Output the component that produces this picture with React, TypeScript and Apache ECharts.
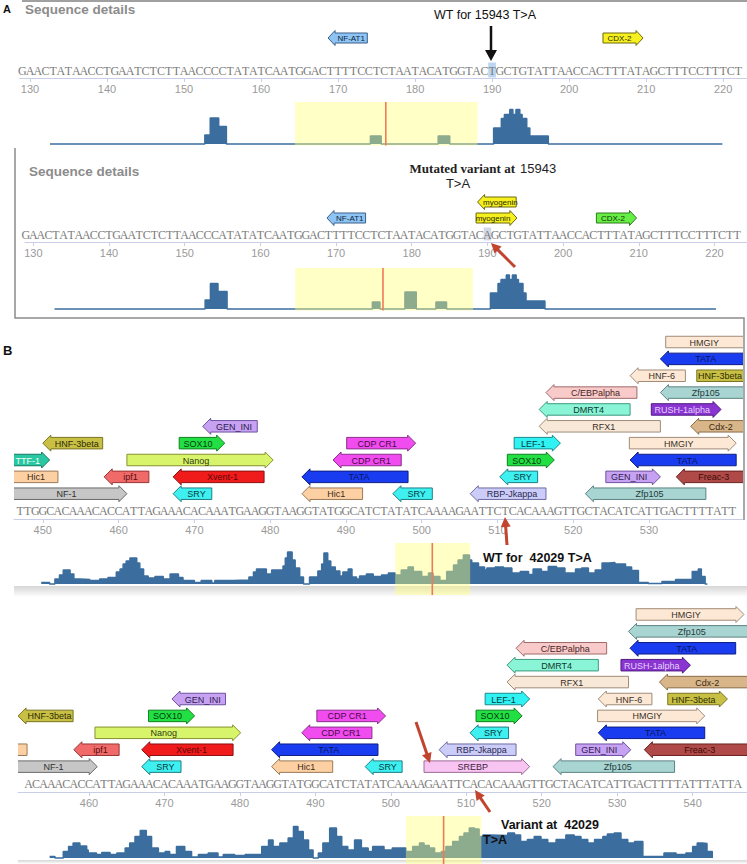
import React, { useEffect, useRef } from "react";
import * as echarts from "echarts";

type TF = [string, number, number, number, number]; // name, start, end, row, direction (1 right, -1 left)
type Pt = [number, number];

// ---------------- Panel A : 15943 T>A ----------------
const seqA1Start = 129;
const seqA1 = "GAACTATAACCTGAATCTCTTAACCCCTATATCAATGGACTTTTCCTCTAATACATGGTACTGCTGTATTAACCACTTTATAGCTTTCCTTTCTTT";
const seqA2Start = 129;
const seqA2 = "GAACTATAACCTGAATCTCTTAACCCATATATCAATGGACTTTTCCTCTAATACATGGTACAGCTGTATTAACCACTTTATAGCTTTCCTTTCTTT";
const variantPosA = 190;
const ticksA = [130, 140, 150, 160, 170, 180, 190, 200, 210, 220];
const rangeA1: Pt = [128.7, 223.1];
const rangeA2: Pt = [128.9, 224.3];

const tfA1: TF[] = [
  ["NF-AT1", 168.7, 173.8, 2, -1],
  ["CDX-2", 204.4, 209.6, 2, 1],
];
const tfA2: TF[] = [
  ["NF-AT1", 168.8, 173.9, 1, -1],
  ["myogenin", 188.5, 193.9, 1, 1],
  ["myogenin", 188.7, 193.8, 2, -1],
  ["CDX-2", 204.4, 209.7, 1, 1],
];

const consA1: Pt[] = [
  [132.6, 0], [152.7, 9], [153.4, 26], [154.5, 17.5], [155.5, 0], [174.2, 8], [175.6, 0],
  [183, 8], [184.5, 0], [190.2, 16], [191.2, 25.5], [191.6, 29.5], [192.3, 34.5], [192.7, 29.5],
  [193.1, 34.5], [193.6, 29.5], [193.9, 25.5], [194.5, 16], [194.9, 8], [197.3, 0], [219.9, 0],
];
const consA2: Pt[] = [
  [132.8, 0], [152.7, 9], [153.4, 25.5], [154.4, 17.5], [155.6, 0], [174.8, 7], [175.8, 0],
  [179.1, 17], [180.6, 0], [183.2, 7], [184.6, 0], [190.4, 16], [191.4, 25.5], [191.8, 29.5],
  [192.5, 34], [192.9, 29.5], [193.3, 34], [193.8, 29.5], [194.1, 25.5], [194.7, 16], [195.1, 8],
  [197.6, 0], [220.2, 0],
];
const windowA1 = [164.4, 188.1, 176.2]; // highlighted window start, end, variant line
const windowA2 = [164.6, 188.1, 176.2];

// ---------------- Panel B : 42029 T>A ----------------
const seqB1Start = 447;
const seqB1 = "TTGGCACAAACACCATTAGAAACACAAATGAAGGTAAGGTATGGCATCTATATCAAAAGAATTCTCACAAAGTTGCTACATCATTGACTTTTATTT";
const seqB2Start = 452;
const seqB2 = "ACAAACACCATTAGAAACACAAATGAAGGTAAGGTATGGCATCTATATCAAAAGAATTCACACAAAGTTGCTACATCATTGACTTTTATTTATTAC";
const ticksB1 = [450, 460, 470, 480, 490, 500, 510, 520, 530];
const ticksB2 = [460, 470, 480, 490, 500, 510, 520, 530, 540];
const rangeB1: Pt = [446.2, 542.4];
const rangeB2: Pt = [450.6, 547.2];

const tfB1: TF[] = [
  ["NF-1", 444, 461.1, 1, 1], ["SRY", 467.2, 472.3, 1, -1], ["Hic1", 484.2, 492.2, 1, -1],
  ["SRY", 496.2, 501.4, 1, -1], ["RBP-Jkappa", 506.4, 516.4, 1, -1], ["Zfp105", 521.6, 537.5, 1, -1],
  ["Hic1", 443.4, 452, 2, -1], ["ipf1", 458.1, 464, 2, -1], ["Xvent-1", 467.2, 479.2, 2, -1],
  ["TATA", 484.2, 498.2, 2, -1], ["SRY", 510.3, 515.3, 2, -1], ["GEN_INI", 524.3, 531.5, 2, 1],
  ["Freac-3", 533.6, 546, 2, -1],
  ["TTF-1", 444, 450.9, 3, 1], ["Nanog", 461.1, 480.4, 3, 1], ["CDP CR1", 488.3, 497.3, 3, -1],
  ["SOX10", 511.3, 517.5, 3, 1], ["TATA", 527.5, 541.5, 3, -1],
  ["HNF-3beta", 450, 457.9, 4, -1], ["SOX10", 468, 474, 4, 1], ["CDP CR1", 490.1, 499.2, 4, 1],
  ["LEF-1", 512.2, 518.3, 4, 1], ["HMGIY", 527.4, 541.5, 4, 1],
  ["GEN_INI", 471.1, 478.3, 5, -1], ["RFX1", 515.5, 531.5, 5, -1], ["Cdx-2", 535.5, 547, 5, -1],
  ["DMRT4", 515.5, 527.5, 6, -1], ["RUSH-1alpha", 530.3, 539.5, 6, 1],
  ["C/EBPalpha", 516.4, 528.4, 7, -1], ["Zfp105", 531.5, 546, 7, -1],
  ["HNF-6", 527.5, 534.8, 8, -1], ["HNF-3beta", 536.3, 546, 8, 1],
  ["TATA", 531.5, 546, 9, -1],
  ["HMGIY", 532.2, 546, 10, 1],
];
const tfB2: TF[] = [
  ["NF-1", 448, 461.1, 1, 1], ["SRY", 467, 472.2, 1, -1], ["Hic1", 484.2, 492.3, 1, -1],
  ["SRY", 496.6, 501.5, 1, -1], ["SREBP", 504.4, 518.4, 1, 1], ["Zfp105", 521.5, 537.6, 1, -1],
  ["Hic1", 444, 451.8, 2, -1], ["ipf1", 458, 464, 2, -1], ["Xvent-1", 467, 479.1, 2, -1],
  ["TATA", 484.2, 498.3, 2, -1], ["RBP-Jkappa", 506.4, 516.6, 2, -1], ["GEN_INI", 524.5, 531.8, 2, 1],
  ["Freac-3", 533.6, 550, 2, -1],
  ["Nanog", 460.8, 480.1, 3, 1], ["CDP CR1", 488.2, 497.5, 3, -1], ["SRY", 510.5, 515.6, 3, -1],
  ["TATA", 527.5, 541.6, 3, -1],
  ["HNF-3beta", 450.6, 457.9, 4, -1], ["SOX10", 467.9, 474, 4, 1], ["CDP CR1", 490.2, 499.3, 4, 1],
  ["SOX10", 511.3, 517.4, 4, 1], ["HMGIY", 527.4, 541.6, 4, 1],
  ["GEN_INI", 471, 478.1, 5, -1], ["LEF-1", 512.5, 518.4, 5, 1], ["HNF-6", 527.5, 534.6, 5, -1],
  ["HNF-3beta", 536.7, 544.6, 5, 1],
  ["RFX1", 515.4, 531.5, 6, -1], ["Cdx-2", 535.6, 550, 6, -1],
  ["DMRT4", 515.4, 527.5, 7, -1], ["RUSH-1alpha", 530.5, 539.7, 7, 1],
  ["C/EBPalpha", 516.6, 528.6, 8, -1], ["TATA", 531.7, 545.7, 8, -1],
  ["Zfp105", 531.5, 550, 9, -1],
  ["HMGIY", 532.5, 546.8, 10, 1],
];

const consB1: Pt[] = [
  [449.8, 1.5], [450.9, 0], [451.6, 5], [452.2, 9], [452.7, 14], [453.6, 10], [454.1, 5], [454.9, 4.5],
  [456.2, 3.5], [457.5, 5], [458.6, 6.5], [459.7, 12], [460.2, 15], [460.6, 20], [461, 23], [461.5, 26],
  [462.4, 21], [462.8, 15], [463.3, 8], [463.9, 6], [464.8, 7.5], [465.9, 5], [466.8, 10], [467.9, 6.5],
  [468.5, 3.5], [470, 1.5], [470.9, 3.5], [472.3, 1], [472.7, 3.5], [475.1, 4], [477.2, 7], [477.8, 12],
  [478.2, 15], [479.5, 10], [480.2, 14], [481.7, 18], [482, 26], [482.3, 32], [482.9, 24], [483.3, 16],
  [483.9, 7], [484.4, 0], [485.2, 7], [486.3, 13], [486.8, 20], [487.1, 31], [487.6, 23], [488, 17],
  [488.6, 13], [489.2, 8], [489.6, 12], [490.3, 15], [490.8, 7], [491.4, 5], [491.8, 8], [492.7, 10],
  [493.6, 7.5], [494.7, 9], [495.6, 11], [496.5, 9], [497.3, 14], [498.2, 17], [498.9, 12.5], [500, 7.5],
  [500.9, 11], [501.5, 7.5], [502.4, 3.5], [503.3, 12.5], [504.2, 19], [504.8, 24], [505.5, 29],
  [506.3, 24], [506.6, 21], [507.5, 17], [508.3, 14], [508.6, 16], [509.7, 17], [510.8, 16], [511.9, 11],
  [513, 12.5], [514.1, 9.5], [514.7, 15], [515.8, 12.5], [516.7, 17.5], [517.8, 16], [518.9, 11],
  [520.3, 15], [521.1, 16], [522, 11], [522.9, 14], [523.8, 21], [524.7, 21.5], [525.5, 20], [526.9, 17],
  [527.7, 13.5], [528.6, 1.5], [529.9, 0.5], [531.7, 2.5], [533.5, 4.5], [535.7, 12.5], [536.5, 15],
  [536.9, 7.5], [537.4, 0], [537.7, 0],
];
const consB2: Pt[] = [
  [454.8, 1.5], [455.5, 0], [456.6, 6.5], [457.3, 11.5], [457.9, 15], [458.8, 12], [459.7, 8], [459.9, 5],
  [461, 3.5], [461.7, 5.5], [462.8, 3.5], [463.7, 5], [464.8, 10], [465.4, 15], [466.1, 21.5], [466.8, 27.5],
  [467.6, 21.5], [468.3, 10], [469.2, 5], [470.1, 6.5], [470.7, 3.5], [471.6, 11.5], [472.7, 6.5], [473.6, 1],
  [474.5, 3.5], [475.8, 5], [477.1, 1], [477.8, 3.5], [479.3, 2.5], [480.7, 3.5], [482.9, 11.5], [483.8, 18],
  [484.4, 11.5], [485.3, 15], [486.4, 20], [487.1, 31.5], [487.7, 26.5], [488.4, 18], [489.1, 8], [489.7, 0],
  [490.4, 5], [491, 15], [491.9, 30], [492.8, 21.5], [493.5, 11.5], [494.3, 8], [495.2, 18], [496.1, 10],
  [497, 6.5], [497.6, 11.5], [499.1, 8], [500.2, 10], [502, 6.5], [502.9, 11.5], [503.8, 15], [504.4, 12.5],
  [505.1, 10], [505.8, 5], [506.7, 6.5], [507.3, 11.5], [508.2, 16.5], [509.1, 21.5], [509.7, 25], [510.4, 30],
  [511.1, 29], [511.7, 21.5], [512.2, 23], [513.1, 22.5], [515.5, 25], [516.4, 23], [517.2, 16.5],
  [518.1, 18.5], [519, 21.5], [519.9, 18.5], [520.8, 15], [521.9, 18.5], [523.2, 23], [524.3, 21.5],
  [525.2, 18.5], [526.1, 15], [527, 18.5], [528.1, 21.5], [528.7, 24], [529.6, 25], [530.5, 18.5],
  [531.4, 15], [532.3, 16.5], [533.4, 1.5], [536.2, 5], [537.8, 3.5], [539.1, 5], [540, 11.5], [540.6, 15],
  [541.3, 14.5], [541.9, 6.5], [542.6, 0],
];
const windowB1 = [496.5, 506.4, 501.4];
const windowB2 = [502, 512, 507];

// ---------------- styles ----------------
const SANS = '"Liberation Sans", Arial, sans-serif';
const SERIF = '"Liberation Serif", "Times New Roman", serif';
const BLUE = "#3b6e9e";
const AXIS = "#c8cde8";
const RED = "#c2442f";

const TF_COLORS: Record<string, [string, string, string]> = {
  "NF-AT1": ["#8ec4f4", "#3a5f8a", "#10243c"],
  "CDX-2": ["#f6f01e", "#6e6a10", "#2a2a08"],
  myogenin: ["#f6f01e", "#6e6a10", "#2a2a08"],
  "NF-1": ["#c6c6c6", "#6a6a6a", "#303030"],
  SRY: ["#3ff0f0", "#1d7f86", "#063c40"],
  Hic1: ["#fcd0a2", "#9a7a58", "#3c2a18"],
  "RBP-Jkappa": ["#ccccf8", "#6c6ca0", "#2a2a50"],
  Zfp105: ["#a8d4d2", "#5c8482", "#1e3a38"],
  ipf1: ["#f06a6a", "#9a3434", "#5a0c0c"],
  "Xvent-1": ["#f01c1c", "#8c1010", "#600606"],
  TATA: ["#1a3cf0", "#0e1e84", "#061460"],
  GEN_INI: ["#c8a2f2", "#6e52a0", "#2e1c50"],
  "Freac-3": ["#b04a48", "#6a2220", "#3c0a08"],
  "TTF-1": ["#2ac8a2", "#127a60", "#effff9"],
  Nanog: ["#d8f46a", "#86922e", "#303c10"],
  "CDP CR1": ["#f04cf0", "#8c2e8c", "#4a0a4a"],
  SOX10: ["#22e044", "#10801e", "#063c0e"],
  "HNF-3beta": ["#c8c044", "#7a7420", "#2e2c06"],
  "LEF-1": ["#30f2f2", "#1a8a8c", "#063e40"],
  HMGIY: ["#fce8d4", "#a08c78", "#3a3028"],
  RFX1: ["#f8e8d8", "#a08c78", "#3a3028"],
  DMRT4: ["#8af4d6", "#3c9a7e", "#0e3a2e"],
  "C/EBPalpha": ["#f8caca", "#a06a6a", "#4a2424"],
  "RUSH-1alpha": ["#8a34d2", "#4e1a80", "#e4d2fa"],
  "HNF-6": ["#fce8d4", "#a08c78", "#3a3028"],
  "Cdx-2": ["#d8b68a", "#8a6c48", "#3a2a14"],
  SREBP: ["#f8c4f2", "#9c6c98", "#3e2040"],
};
const TF_OVERRIDE: Record<string, [string, string, string]> = {
  "A2:CDX-2": ["#66ee44", "#2e7a1e", "#0e3006"],
};
function tfStyle(panel: string, name: string): [string, string, string] {
  return TF_OVERRIDE[panel + ":" + name] || TF_COLORS[name] || ["#dddddd", "#888888", "#333333"];
}

interface Panel {
  key: string; seq: string; start: number; tfs: TF[]; cons: Pt[]; win: number[];
  range: Pt; ticks: number[]; hiPos: number | null; hiColor: string;
  left: number; width: number; trackTop: number; trackH: number; rows: number;
  consTop: number; consH: number; consMin: number; consMax: number;
  fs: number; bodyH: number; headH: number; headL: number; hiH: number;
}

const PANELS: Panel[] = [
  { key: "A1", seq: seqA1, start: seqA1Start, tfs: tfA1, cons: consA1, win: windowA1, range: rangeA1, ticks: ticksA,
    hiPos: variantPosA, hiColor: "#bcd6f2", left: 20, width: 727, trackTop: 30, trackH: 48, rows: 2,
    consTop: 102, consH: 43.5, consMin: -1.5, consMax: 42, fs: 8, bodyH: 10, headH: 15, headL: 7, hiH: 15 },
  { key: "A2", seq: seqA2, start: seqA2Start, tfs: tfA2, cons: consA2, win: windowA2, range: rangeA2, ticks: ticksA,
    hiPos: variantPosA, hiColor: "#d2d8e6", left: 25, width: 722, trackTop: 194, trackH: 48, rows: 2,
    consTop: 268, consH: 42.5, consMin: -1.5, consMax: 41, fs: 8, bodyH: 10, headH: 15, headL: 7, hiH: 13 },
  { key: "B1", seq: seqB1, start: seqB1Start, tfs: tfB1, cons: consB1, win: windowB1, range: rangeB1, ticks: ticksB1,
    hiPos: null, hiColor: "", left: 14, width: 729, trackTop: 333.6, trackH: 185.4, rows: 10,
    consTop: 543, consH: 52, consMin: -11, consMax: 41, fs: 9, bodyH: 11.5, headH: 16, headL: 8, hiH: 14 },
  { key: "B2", seq: seqB2, start: seqB2Start, tfs: tfB2, cons: consB2, win: windowB2, range: rangeB2, ticks: ticksB2,
    hiPos: null, hiColor: "", left: 18, width: 729, trackTop: 606, trackH: 186, rows: 10,
    consTop: 816, consH: 48, consMin: -6, consMax: 42, fs: 9, bodyH: 11.5, headH: 16, headL: 8, hiH: 14 },
];

function arrowEls(x1: number, y1: number, x2: number, y2: number, color: string, w: number, hl: number, hw: number) {
  const dx = x2 - x1, dy = y2 - y1;
  const len = Math.hypot(dx, dy);
  const ux = dx / len, uy = dy / len;
  const bx = x2 - ux * hl, by = y2 - uy * hl;
  const px = -uy, py = ux;
  return [
    { type: "line", z: 100, shape: { x1, y1, x2: bx + ux, y2: by + uy }, style: { stroke: color, lineWidth: w } },
    { type: "polygon", z: 100, shape: { points: [[x2, y2], [bx + px * hw, by + py * hw], [bx - px * hw, by - py * hw]] }, style: { fill: color } },
  ];
}

function buildOption() {
  const grid: any[] = [], xAxis: any[] = [], yAxis: any[] = [], series: any[] = [];
  PANELS.forEach((p, i) => {
    const ti = i * 2, ci = i * 2 + 1;
    grid.push({ left: p.left, width: p.width, top: p.trackTop, height: p.trackH, containLabel: false, outerBoundsMode: "none" });
    grid.push({ left: p.left, width: p.width, top: p.consTop, height: p.consH, containLabel: false, outerBoundsMode: "none" });
    xAxis.push({
      gridIndex: ti, type: "value", min: p.range[0], max: p.range[1],
      axisLine: { show: true, onZero: false, lineStyle: { color: AXIS, width: 1 } },
      axisTick: { show: true, customValues: p.ticks, length: 4, lineStyle: { color: AXIS } },
      axisLabel: { customValues: p.ticks, color: "#9a9a9a", fontSize: 11, fontFamily: SANS, margin: 5 },
      splitLine: { show: false },
    });
    xAxis.push({ gridIndex: ci, type: "value", min: p.range[0], max: p.range[1], show: false });
    yAxis.push({ gridIndex: ti, type: "value", min: -0.5, max: p.rows + 0.5, show: false });
    yAxis.push({ gridIndex: ci, type: "value", min: p.consMin, max: p.consMax, show: false });

    // transcription factor arrows
    series.push({
      type: "custom", name: p.key + " TF", xAxisIndex: ti, yAxisIndex: ti, clip: true, z: 3,
      encode: { x: [0, 1], y: 2 },
      data: p.tfs.map((d) => [d[1], d[2], d[3]]),
      renderItem: (params: any, api: any) => {
        const d = p.tfs[params.dataIndex];
        const a = api.coord([api.value(0), api.value(2)]);
        const b = api.coord([api.value(1), api.value(2)]);
        const cs = params.coordSys;
        const xa = a[0], xb = b[0], cy = a[1];
        const h = p.bodyH / 2, H = p.headH / 2;
        const L = Math.min(p.headL, (xb - xa) / 2);
        let pts: number[][];
        let bx0 = xa, bx1 = xb;
        if (d[4] > 0) {
          pts = [[xa, cy - h], [xb - L, cy - h], [xb - L, cy - H], [xb, cy], [xb - L, cy + H], [xb - L, cy + h], [xa, cy + h]];
          bx1 = xb - L;
        } else {
          pts = [[xb, cy - h], [xa + L, cy - h], [xa + L, cy - H], [xa, cy], [xa + L, cy + H], [xa + L, cy + h], [xb, cy + h]];
          bx0 = xa + L;
        }
        const [fill, stroke, txt] = tfStyle(p.key, d[0]);
        const children: any[] = [
          { type: "polygon", shape: { points: pts }, style: { fill, stroke, lineWidth: 1 } },
        ];
        const v0 = Math.max(bx0, cs.x), v1 = Math.min(bx1, cs.x + cs.width);
        if (v1 - v0 > 14) {
          children.push({
            type: "text", x: (v0 + v1) / 2, y: cy + 0.5,
            style: { text: d[0], fill: txt, fontSize: p.fs, fontFamily: SANS, align: "center", verticalAlign: "middle" },
          });
        }
        return { type: "group", children };
      },
    });

    // DNA sequence (letters whose centre falls outside the visible window are left out)
    series.push({
      type: "custom", name: p.key + " sequence", xAxisIndex: ti, yAxisIndex: ti, clip: false, z: 2,
      encode: { x: 0, y: 1 },
      data: p.seq.split("").map((_, k) => [p.start + k, 0]),
      renderItem: (params: any, api: any) => {
        const k = params.dataIndex;
        const pos = api.value(0);
        const c = api.coord([pos, 0]);
        const cs = params.coordSys;
        if (c[0] < cs.x - 1 || c[0] + 4 > cs.x + cs.width) return { type: "group", children: [] };
        const w = api.size([1, 0])[0];
        const children: any[] = [];
        if (p.hiPos !== null && pos === p.hiPos) {
          children.push({ type: "rect", shape: { x: c[0] - w / 2, y: c[1] - p.hiH / 2, width: w, height: p.hiH }, style: { fill: p.hiColor } });
        }
        children.push({
          type: "text", x: c[0], y: c[1] + 0.5,
          style: { text: p.seq[k], fill: "#7b7b7b", fontSize: 12, fontFamily: SERIF, align: "center", verticalAlign: "middle" },
        });
        return { type: "group", children };
      },
    });

    // conservation profile
    series.push({
      type: "line", name: p.key + " conservation", xAxisIndex: ci, yAxisIndex: ci, data: p.cons,
      step: "end", symbol: "none", silent: true, z: 2,
      lineStyle: { color: BLUE, width: 1.5 },
      areaStyle: { color: BLUE, opacity: 1 },
    });

    // highlighted window + variant line
    series.push({
      type: "custom", name: p.key + " window", xAxisIndex: ci, yAxisIndex: ci, z: 4, silent: true,
      encode: { x: [0, 1, 2], y: 3 },
      data: [[p.win[0], p.win[1], p.win[2], 0]],
      renderItem: (params: any, api: any) => {
        const cs = params.coordSys;
        const x0 = api.coord([api.value(0), 0])[0];
        const x1 = api.coord([api.value(1), 0])[0];
        const xr = api.coord([api.value(2), 0])[0];
        return {
          type: "group",
          children: [
            { type: "rect", shape: { x: x0, y: cs.y, width: x1 - x0, height: cs.height }, style: { fill: "rgba(255,255,120,0.42)" } },
            { type: "line", shape: { x1: xr, y1: cs.y, x2: xr, y2: cs.y + cs.height }, style: { stroke: "#f07a58", lineWidth: 1.6 } },
          ],
        };
      },
    });
  });

  const grayBand = (x: number, y: number, w: number, hgt: number) => ({
    type: "rect", z: 0, shape: { x, y, width: w, height: hgt },
    style: { fill: new echarts.graphic.LinearGradient(0, 0, 0, 1, [{ offset: 0, color: "#d6d6d6" }, { offset: 1, color: "#ffffff" }]) },
  });

  const graphic: any[] = [
    { type: "line", z: 1, shape: { x1: 22, y1: 1, x2: 747, y2: 1 }, style: { stroke: "#a0a0a0", lineWidth: 2 } },
    { type: "text", z: 100, x: 3, y: 9, style: { text: "A", fill: "#111", font: `bold 11px ${SANS}`, verticalAlign: "middle" } },
    { type: "text", z: 100, x: 25, y: 9, style: { text: "Sequence details", fill: "#8c8c8c", font: `bold 13.5px ${SANS}`, verticalAlign: "middle" } },
    { type: "text", z: 100, x: 485, y: 15, style: { text: "WT for 15943 T>A", fill: "#111", font: `12.5px ${SANS}`, align: "center", verticalAlign: "middle" } },
    { type: "line", z: 100, shape: { x1: 491, y1: 26, x2: 491, y2: 52 }, style: { stroke: "#111", lineWidth: 2.5 } },
    { type: "polygon", z: 100, shape: { points: [[485, 50], [497, 50], [491, 61]] }, style: { fill: "#111" } },

    { type: "polyline", z: 1, shape: { points: [[15, 148], [15, 318], [744, 318], [744, 520]] }, style: { stroke: "#8c8c8c", lineWidth: 1.5, fill: null } },
    { type: "text", z: 100, x: 29, y: 171, style: { text: "Sequence details", fill: "#8c8c8c", font: `bold 13.5px ${SANS}`, verticalAlign: "middle" } },
    { type: "text", z: 100, x: 515, y: 168, style: { text: "Mutated variant at", fill: "#222", font: `bold 13px ${SERIF}`, align: "right", verticalAlign: "middle" } },
    { type: "text", z: 100, x: 520, y: 168, style: { text: "15943", fill: "#222", font: `13px ${SANS}`, verticalAlign: "middle" } },
    { type: "text", z: 100, x: 458, y: 183, style: { text: "T>A", fill: "#222", font: `13px ${SANS}`, align: "center", verticalAlign: "middle" } },
    ...arrowEls(515, 267, 491, 243, RED, 3, 10, 5),

    { type: "text", z: 100, x: 3, y: 350, style: { text: "B", fill: "#111", font: `bold 13px ${SANS}`, verticalAlign: "middle" } },
    grayBand(14, 586, 733, 11),
    { type: "text", z: 100, x: 483, y: 558, style: { text: "WT for  42029 T>A", fill: "#111", font: `bold 12.5px ${SANS}`, verticalAlign: "middle" } },
    ...arrowEls(507, 545, 505, 517, RED, 3, 10, 5),

    grayBand(18, 860, 729, 4),
    { type: "text", z: 100, x: 501, y: 825, style: { text: "Variant at  42029", fill: "#111", font: `bold 12.5px ${SANS}`, verticalAlign: "middle" } },
    { type: "text", z: 100, x: 483, y: 840, style: { text: "T>A", fill: "#111", font: `bold 12.5px ${SANS}`, verticalAlign: "middle" } },
    ...arrowEls(490, 812, 475, 790, RED, 3, 10, 5),
    ...arrowEls(416, 722, 430, 763, RED, 3, 10, 5),
  ];

  return {
    animation: false,
    backgroundColor: "#ffffff",
    textStyle: { fontFamily: SANS },
    grid, xAxis, yAxis, series, graphic,
  };
}

export default function App() {
  const ref = useRef<HTMLDivElement>(null);
  useEffect(() => {
    if (!ref.current) return;
    const chart = echarts.init(ref.current, null, { renderer: "svg" });
    chart.setOption(buildOption() as any);
    return () => chart.dispose();
  }, []);
  return (
    <div
      ref={ref}
      style={{ position: "fixed", left: 0, top: 0, width: 747, height: 864, background: "#fff" }}
    />
  );
}
